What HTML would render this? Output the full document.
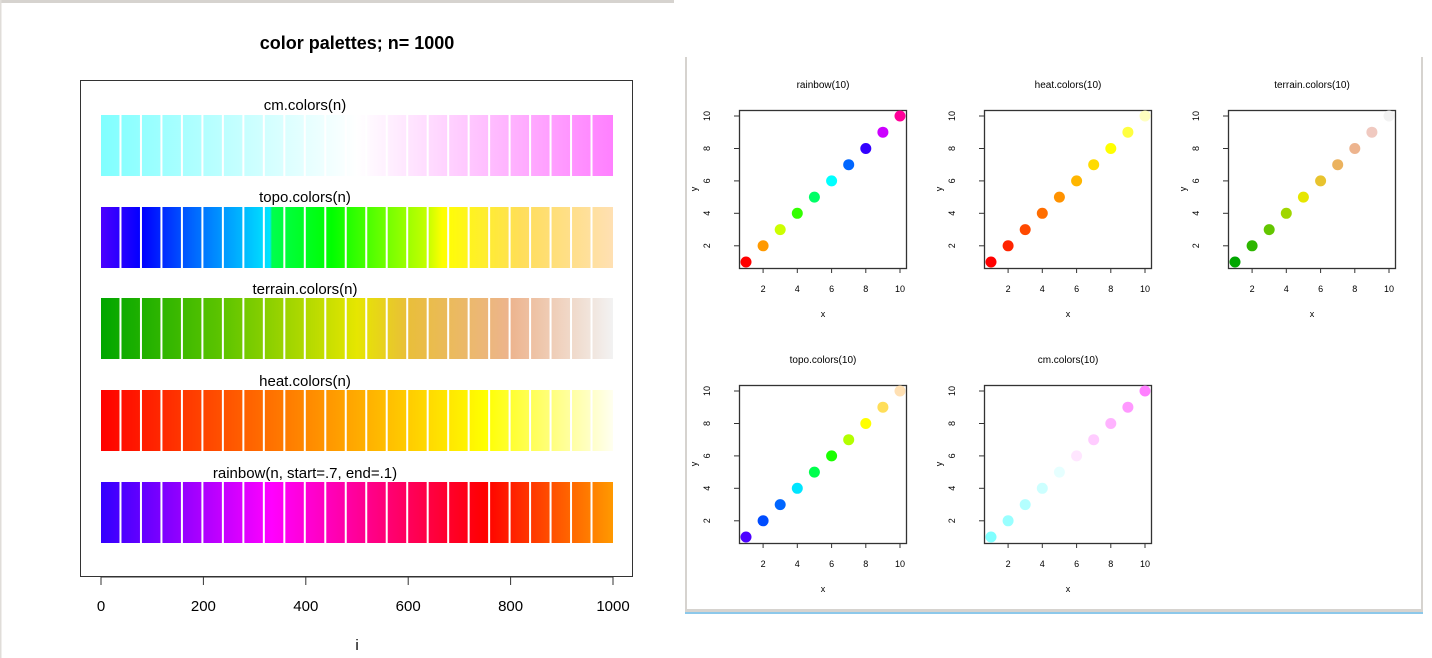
<!DOCTYPE html>
<html><head><meta charset="utf-8"><style>
html,body{margin:0;padding:0;background:#fff;}
svg{display:block;font-family:"Liberation Sans",Arial,sans-serif;}
</style></head><body>
<svg width="1432" height="658" viewBox="0 0 1432 658" xmlns="http://www.w3.org/2000/svg">
<defs>
<linearGradient id="gcm" x1="101" x2="613" gradientUnits="userSpaceOnUse">
<stop offset="0" stop-color="#80FFFF"/><stop offset="0.5" stop-color="#FFFFFF"/><stop offset="1" stop-color="#FF80FF"/></linearGradient>
<linearGradient id="gtopo" x1="101" x2="613" gradientUnits="userSpaceOnUse">
<stop offset="0" stop-color="#4C00FF"/><stop offset="0.08" stop-color="#0000FF"/><stop offset="0.18" stop-color="#0066FF"/><stop offset="0.33" stop-color="#00E5FF"/><stop offset="0.334" stop-color="#00FF4D"/><stop offset="0.45" stop-color="#00FF00"/><stop offset="0.64" stop-color="#C8FF00"/><stop offset="0.667" stop-color="#FFFF00"/><stop offset="0.82" stop-color="#FFDE59"/><stop offset="1" stop-color="#FFE0B3"/></linearGradient>
<linearGradient id="gterr" x1="101" x2="613" gradientUnits="userSpaceOnUse">
<stop offset="0" stop-color="#00A600"/><stop offset="0.25" stop-color="#63C600"/><stop offset="0.5" stop-color="#E6E600"/><stop offset="0.6" stop-color="#E9BE3A"/><stop offset="0.8" stop-color="#EDB48E"/><stop offset="1" stop-color="#F2F2F2"/></linearGradient>
<linearGradient id="gheat" x1="101" x2="613" gradientUnits="userSpaceOnUse">
<stop offset="0" stop-color="#FF0000"/><stop offset="0.375" stop-color="#FF8000"/><stop offset="0.75" stop-color="#FFFF00"/><stop offset="1" stop-color="#FFFFF0"/></linearGradient>
<linearGradient id="grain" x1="101" x2="613" gradientUnits="userSpaceOnUse">
<stop offset="0" stop-color="#3300FF"/><stop offset="0.25" stop-color="#CC00FF"/><stop offset="0.333" stop-color="#FF00FF"/><stop offset="0.5" stop-color="#FF0099"/><stop offset="0.75" stop-color="#FF0000"/><stop offset="1" stop-color="#FF9900"/></linearGradient>
<pattern id="gap" x="101" y="0" width="20.48" height="10" patternUnits="userSpaceOnUse">
<rect x="18.48" y="0" width="2" height="10" fill="#fff"/></pattern>
</defs>
<!-- window chrome -->
<rect x="0" y="0" width="674" height="3" fill="#d6d3cf"/>
<rect x="0" y="0" width="1.5" height="658" fill="#e0ddd9"/>
<rect x="685" y="57" width="2" height="556" fill="#d6d3cf"/>
<rect x="1421" y="57" width="2" height="556" fill="#d6d3cf"/>
<rect x="685" y="609" width="738" height="4" fill="#d6d3cf"/>
<rect x="685" y="612" width="738" height="2" fill="#8cc8ea"/>

<!-- left chart -->
<text x="357" y="49" font-size="18" font-weight="bold" text-anchor="middle">color palettes;  n= 1000</text>
<rect x="80.5" y="80.5" width="552" height="496" fill="none" stroke="#333" stroke-width="1"/>
<rect x="101" y="115" width="512" height="61" fill="url(#gcm)"/>
<rect x="101" y="207" width="512" height="61" fill="url(#gtopo)"/>
<rect x="101" y="298" width="512" height="61" fill="url(#gterr)"/>
<rect x="101" y="390" width="512" height="61" fill="url(#gheat)"/>
<rect x="101" y="482" width="512" height="61" fill="url(#grain)"/>
<rect x="101" y="110" width="510" height="440" fill="url(#gap)"/>
<g font-size="15" text-anchor="middle">
<text x="305" y="110">cm.colors(n)</text>
<text x="305" y="202">topo.colors(n)</text>
<text x="305" y="294">terrain.colors(n)</text>
<text x="305" y="386">heat.colors(n)</text>
<text x="305" y="478">rainbow(n, start=.7, end=.1)</text>
</g>
<g stroke="#333" stroke-width="1">
<line x1="101" y1="577" x2="613" y2="577"/>
<line x1="101" y1="577" x2="101" y2="585"/><line x1="203.4" y1="577" x2="203.4" y2="585"/><line x1="305.8" y1="577" x2="305.8" y2="585"/><line x1="408.2" y1="577" x2="408.2" y2="585"/><line x1="510.6" y1="577" x2="510.6" y2="585"/><line x1="613" y1="577" x2="613" y2="585"/>
</g>
<g font-size="15" text-anchor="middle">
<text x="101" y="611">0</text><text x="203.4" y="611">200</text><text x="305.8" y="611">400</text><text x="408.2" y="611">600</text><text x="510.6" y="611">800</text><text x="613" y="611">1000</text>
<text x="357" y="650">i</text>
</g>

<!-- panel template drawn 5 times -->
<g id="p1">
<text x="823" y="88" font-size="10" text-anchor="middle">rainbow(10)</text>
<rect x="739.5" y="110.5" width="167" height="158" fill="none" stroke="#333" stroke-width="1.3"/>
<g stroke="#333" stroke-width="1">
<line x1="763.1" y1="268" x2="763.1" y2="273"/><line x1="797.3" y1="268" x2="797.3" y2="273"/><line x1="831.6" y1="268" x2="831.6" y2="273"/><line x1="865.8" y1="268" x2="865.8" y2="273"/><line x1="900" y1="268" x2="900" y2="273"/>
<line x1="734" y1="245.8" x2="739" y2="245.8"/><line x1="734" y1="213.3" x2="739" y2="213.3"/><line x1="734" y1="180.9" x2="739" y2="180.9"/><line x1="734" y1="148.5" x2="739" y2="148.5"/><line x1="734" y1="116" x2="739" y2="116"/>
</g>
<g font-size="9" text-anchor="middle">
<text x="763.1" y="292">2</text><text x="797.3" y="292">4</text><text x="831.6" y="292">6</text><text x="865.8" y="292">8</text><text x="900" y="292">10</text>
<text x="823" y="317">x</text>
<text transform="translate(710,245.8) rotate(-90)">2</text><text transform="translate(710,213.3) rotate(-90)">4</text><text transform="translate(710,180.9) rotate(-90)">6</text><text transform="translate(710,148.5) rotate(-90)">8</text><text transform="translate(710,116) rotate(-90)">10</text>
<text transform="translate(697,189) rotate(-90)">y</text>
</g>
</g>
<g transform="translate(245,0)"><use href="#p1"/></g>
<g transform="translate(489,0)"><use href="#p1"/></g>
<g transform="translate(0,275)"><use href="#p1"/></g>
<g transform="translate(245,275)"><use href="#p1"/></g>
<!-- cover titles for copies and write correct ones -->
<rect x="1020" y="76" width="100" height="16" fill="#fff"/>
<rect x="1264" y="76" width="100" height="16" fill="#fff"/>
<rect x="775" y="351" width="100" height="16" fill="#fff"/>
<rect x="1020" y="351" width="100" height="16" fill="#fff"/>
<g font-size="10" text-anchor="middle">
<text x="1068" y="88">heat.colors(10)</text>
<text x="1312" y="88">terrain.colors(10)</text>
<text x="823" y="363">topo.colors(10)</text>
<text x="1068" y="363">cm.colors(10)</text>
</g>

<g>
<circle cx="746" cy="262" r="5.5" fill="#FF0000"/><circle cx="763.1" cy="245.8" r="5.5" fill="#FF9900"/><circle cx="780.2" cy="229.6" r="5.5" fill="#CCFF00"/><circle cx="797.3" cy="213.3" r="5.5" fill="#33FF00"/><circle cx="814.4" cy="197.1" r="5.5" fill="#00FF66"/><circle cx="831.6" cy="180.9" r="5.5" fill="#00FFFF"/><circle cx="848.7" cy="164.7" r="5.5" fill="#0066FF"/><circle cx="865.8" cy="148.5" r="5.5" fill="#3300FF"/><circle cx="882.9" cy="132.2" r="5.5" fill="#CC00FF"/><circle cx="900" cy="116" r="5.5" fill="#FF0099"/>
</g>
<g transform="translate(245,0)">
<circle cx="746" cy="262" r="5.5" fill="#FF0000"/><circle cx="763.1" cy="245.8" r="5.5" fill="#FF2400"/><circle cx="780.2" cy="229.6" r="5.5" fill="#FF4900"/><circle cx="797.3" cy="213.3" r="5.5" fill="#FF6D00"/><circle cx="814.4" cy="197.1" r="5.5" fill="#FF9200"/><circle cx="831.6" cy="180.9" r="5.5" fill="#FFB600"/><circle cx="848.7" cy="164.7" r="5.5" fill="#FFDB00"/><circle cx="865.8" cy="148.5" r="5.5" fill="#FFFF00"/><circle cx="882.9" cy="132.2" r="5.5" fill="#FFFF40"/><circle cx="900" cy="116" r="5.5" fill="#FFFFBF"/>
</g>
<g transform="translate(489,0)">
<circle cx="746" cy="262" r="5.5" fill="#00A600"/><circle cx="763.1" cy="245.8" r="5.5" fill="#2DB600"/><circle cx="780.2" cy="229.6" r="5.5" fill="#63C600"/><circle cx="797.3" cy="213.3" r="5.5" fill="#A0D600"/><circle cx="814.4" cy="197.1" r="5.5" fill="#E6E600"/><circle cx="831.6" cy="180.9" r="5.5" fill="#E8C32E"/><circle cx="848.7" cy="164.7" r="5.5" fill="#EBB25E"/><circle cx="865.8" cy="148.5" r="5.5" fill="#EDB48E"/><circle cx="882.9" cy="132.2" r="5.5" fill="#F0C9C0"/><circle cx="900" cy="116" r="5.5" fill="#F2F2F2"/>
</g>
<g transform="translate(0,275)">
<circle cx="746" cy="262" r="5.5" fill="#4C00FF"/><circle cx="763.1" cy="245.8" r="5.5" fill="#004CFF"/><circle cx="780.2" cy="229.6" r="5.5" fill="#0066FF"/><circle cx="797.3" cy="213.3" r="5.5" fill="#00E5FF"/><circle cx="814.4" cy="197.1" r="5.5" fill="#00FF4D"/><circle cx="831.6" cy="180.9" r="5.5" fill="#1AFF00"/><circle cx="848.7" cy="164.7" r="5.5" fill="#B3FF00"/><circle cx="865.8" cy="148.5" r="5.5" fill="#FFFF00"/><circle cx="882.9" cy="132.2" r="5.5" fill="#FFDE59"/><circle cx="900" cy="116" r="5.5" fill="#FFE0B3"/>
</g>
<g transform="translate(245,275)">
<circle cx="746" cy="262" r="5.5" fill="#80FFFF"/><circle cx="763.1" cy="245.8" r="5.5" fill="#99FFFF"/><circle cx="780.2" cy="229.6" r="5.5" fill="#B3FFFF"/><circle cx="797.3" cy="213.3" r="5.5" fill="#CCFFFF"/><circle cx="814.4" cy="197.1" r="5.5" fill="#E6FFFF"/><circle cx="831.6" cy="180.9" r="5.5" fill="#FFE6FF"/><circle cx="848.7" cy="164.7" r="5.5" fill="#FFCCFF"/><circle cx="865.8" cy="148.5" r="5.5" fill="#FFB3FF"/><circle cx="882.9" cy="132.2" r="5.5" fill="#FF99FF"/><circle cx="900" cy="116" r="5.5" fill="#FF80FF"/>
</g>
</svg>
</body></html>
